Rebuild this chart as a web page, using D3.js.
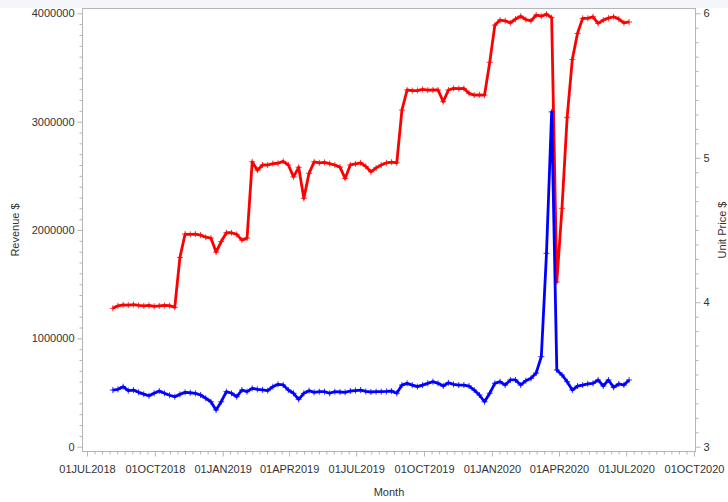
<!DOCTYPE html>
<html>
<head>
<meta charset="utf-8">
<script src="https://cdn.jsdelivr.net/npm/d3@7"></script>
<style>
  html, body { margin: 0; padding: 0; background: #ffffff; }
  svg { display: block; }
  text { font-family: "Liberation Sans", Arial, sans-serif; }
</style>
</head>
<body>
<svg id="chart" width="728" height="502"></svg>
<script>
// Weekly series, first week starting Sunday 05AUG2018
const firstWeek = new Date(2018, 7, 5);
const lastWeek = new Date(2020, 6, 5);

// Weekly revenue ($), left axis
const revenue = [
  523000, 530000, 554000, 517000, 523000, 502000, 485000, 470000, 493000, 514000,
  493000, 475000, 461000, 483000, 502000, 498000, 493000, 477000, 447000, 415000,
  339000, 415000, 508000, 493000, 461000, 523000, 508000, 539000, 530000, 525000,
  517000, 554000, 576000, 570000, 523000, 493000, 437000, 493000, 517000, 502000,
  508000, 508000, 493000, 508000, 505000, 502000, 514000, 518000, 523000, 510000,
  505000, 508000, 508000, 510000, 514000, 493000, 569000, 585000, 569000, 554000,
  569000, 585000, 600000, 585000, 560000, 590000, 575000, 569000, 569000, 560000,
  523000, 477000, 415000, 493000, 585000, 600000, 569000, 616000, 616000, 569000,
  609000, 631000, 680000, 831000, 1785000, 3090000, 708000, 662000, 600000, 523000,
  560000, 569000, 580000, 585000, 616000, 560000, 616000, 548000, 579000, 569000,
  616000
];

// Weekly unit price ($), right axis
const unitPrice = [
  3.958, 3.975, 3.982, 3.980, 3.984, 3.978, 3.975, 3.978, 3.972, 3.975,
  3.978, 3.976, 3.965, 4.310, 4.472, 4.470, 4.472, 4.465, 4.450, 4.444,
  4.347, 4.420, 4.481, 4.481, 4.470, 4.430, 4.444, 4.972, 4.914, 4.950,
  4.950, 4.960, 4.962, 4.975, 4.950, 4.868, 4.934, 4.719, 4.892, 4.972,
  4.965, 4.968, 4.960, 4.950, 4.935, 4.857, 4.950, 4.958, 4.965, 4.940,
  4.903, 4.930, 4.950, 4.965, 4.970, 4.965, 5.330, 5.469, 5.465, 5.465,
  5.473, 5.468, 5.469, 5.469, 5.388, 5.469, 5.480, 5.478, 5.480, 5.446,
  5.434, 5.436, 5.434, 5.660, 5.918, 5.953, 5.948, 5.934, 5.960, 5.980,
  5.957, 5.948, 5.988, 5.980, 5.994, 5.970, 4.140, 4.650, 5.280, 5.680,
  5.860, 5.965, 5.965, 5.976, 5.930, 5.953, 5.967, 5.976, 5.960, 5.934,
  5.940
];

// Axis ticks
const monthTicks = [
  new Date(2018, 6, 1), new Date(2018, 9, 1), new Date(2019, 0, 1), new Date(2019, 3, 1),
  new Date(2019, 6, 1), new Date(2019, 9, 1), new Date(2020, 0, 1), new Date(2020, 3, 1),
  new Date(2020, 6, 1), new Date(2020, 9, 1)
];
const revenueTicks = [0, 1000000, 2000000, 3000000, 4000000];
const priceTicks = [3, 4, 5, 6];

const weeks = d3.timeWeek.range(firstWeek, d3.timeDay.offset(lastWeek, 1));

const svg = d3.select("#chart");
const W = 728, H = 502;
const frame = { left: 82.5, right: 695.5, top: 8.5, bottom: 451.5 };

// pale band above the plot
svg.append("rect").attr("x", 0).attr("y", 0).attr("width", W).attr("height", 8)
  .attr("fill", "#f4f6fb");

const x = d3.scaleTime()
  .domain([monthTicks[0], monthTicks[monthTicks.length - 1]])
  .range([87, 694]);
const yRev = d3.scaleLinear().domain([0, 4000000]).range([446.7, 13.3]);
const yPrice = d3.scaleLinear().domain([3, 6]).range([446.7, 13.3]);

const axisColor = "#b5b5b5";
const labelColor = "#333333";

// plot frame
svg.append("rect")
  .attr("x", frame.left).attr("y", frame.top)
  .attr("width", frame.right - frame.left).attr("height", frame.bottom - frame.top)
  .attr("fill", "none").attr("stroke", axisColor).attr("stroke-width", 1);

function styleAxis(g) {
  g.select(".domain").remove();
  g.selectAll(".tick line").attr("stroke", axisColor);
  g.selectAll(".tick text").attr("fill", labelColor).style("font-size", "11px");
}

// minor tick values
const xMinor = [];
for (let i = 0; i < monthTicks.length - 1; i++) {
  const a = +monthTicks[i], b = +monthTicks[i + 1];
  for (let j = 1; j < 9; j++) xMinor.push(new Date(a + (b - a) * j / 9));
}
const revMinor = d3.range(0, 4000001, 100000).filter(v => v % 1000000 !== 0);
const priceMinor = d3.range(30, 61).map(v => v / 10).filter(v => Math.abs(v - Math.round(v)) > 1e-9);

// bottom axis
svg.append("g").attr("transform", `translate(0,${frame.bottom})`)
  .call(d3.axisBottom(x).tickValues(xMinor).tickSize(3).tickFormat(""))
  .call(styleAxis);
svg.append("g").attr("transform", `translate(0,${frame.bottom})`)
  .call(d3.axisBottom(x).tickValues(monthTicks).tickSize(5).tickPadding(9)
    .tickFormat(d => d3.timeFormat("%d")(d) + d3.timeFormat("%b")(d).toUpperCase() + d3.timeFormat("%Y")(d)))
  .call(styleAxis);

// left axis
svg.append("g").attr("transform", `translate(${frame.left},0)`)
  .call(d3.axisLeft(yRev).tickValues(revMinor).tickSize(3).tickFormat(""))
  .call(styleAxis);
svg.append("g").attr("transform", `translate(${frame.left},0)`)
  .call(d3.axisLeft(yRev).tickValues(revenueTicks).tickSize(5).tickPadding(3).tickFormat(d3.format("d")))
  .call(styleAxis);

// right axis
svg.append("g").attr("transform", `translate(${frame.right},0)`)
  .call(d3.axisRight(yPrice).tickValues(priceMinor).tickSize(3).tickFormat(""))
  .call(styleAxis);
svg.append("g").attr("transform", `translate(${frame.right},0)`)
  .call(d3.axisRight(yPrice).tickValues(priceTicks).tickSize(5).tickPadding(3).tickFormat(d3.format("d")))
  .call(styleAxis);

// axis titles
svg.append("text").attr("transform", "translate(19,230) rotate(-90)")
  .attr("text-anchor", "middle").attr("fill", labelColor).style("font-size", "11px")
  .text("Revenue $");
svg.append("text").attr("transform", "translate(726,230) rotate(-90)")
  .attr("text-anchor", "middle").attr("fill", labelColor).style("font-size", "11px")
  .text("Unit Price $");
svg.append("text").attr("x", (frame.left + frame.right) / 2).attr("y", 496)
  .attr("text-anchor", "middle").attr("fill", labelColor).style("font-size", "11px")
  .text("Month");

// series
function drawSeries(values, yScale, color) {
  const pts = values.map((v, i) => [x(weeks[i]), yScale(v)]);
  svg.append("path")
    .attr("d", d3.line()(pts))
    .attr("fill", "none").attr("stroke", color)
    .attr("stroke-width", 2.8).attr("stroke-linejoin", "round");
  svg.append("g").selectAll("path").data(pts).join("path")
    .attr("d", d => `M${d[0] - 3},${d[1]}h6M${d[0]},${d[1] - 3}v6`)
    .attr("stroke", color).attr("stroke-width", 1).attr("stroke-opacity", 0.8);
}

drawSeries(unitPrice, yPrice, "#ff0000");
drawSeries(revenue, yRev, "#0000ff");
</script>
</body>
</html>
